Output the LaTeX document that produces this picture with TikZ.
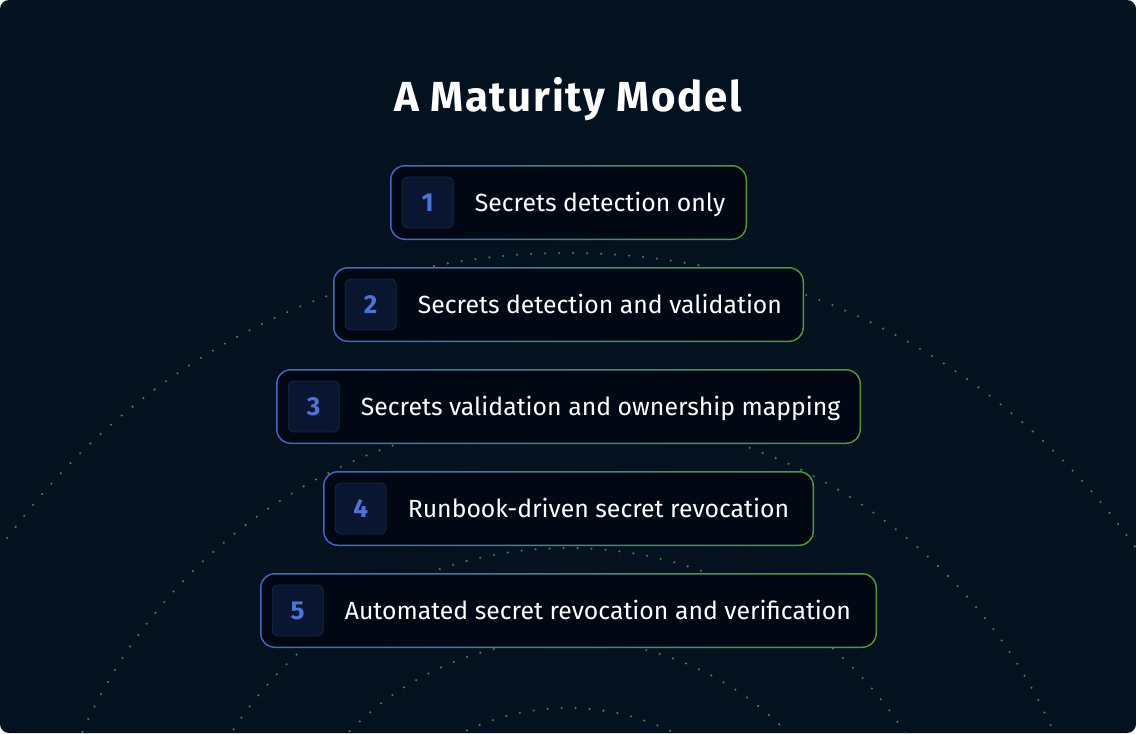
\documentclass[tikz,border=0pt]{standalone}
\usepackage{fontspec}
\setmainfont{Fira Sans}
\newfontfamily\headfont[LetterSpace=4]{Fira Sans}
\usetikzlibrary{positioning}

\definecolor{bgnavy}{HTML}{04111F}
\definecolor{cardfill}{HTML}{020714}
\definecolor{badgefill}{HTML}{0A1630}
\definecolor{badgeline}{HTML}{1A2642}
\definecolor{numblue}{HTML}{4A74DA}
\definecolor{rimblue}{HTML}{4169C6}
\definecolor{rimgreen}{HTML}{4E9C3A}
\definecolor{dotgreen}{HTML}{4A854F}

\tikzset{
  stepcard/.style={rounded corners=15pt, minimum height=75pt, inner sep=0pt,
    left color=rimblue, right color=rimgreen,
    path picture={\fill[cardfill, rounded corners=13.5pt]
      ([shift={(1.5pt,-1.5pt)}]path picture bounding box.north west) rectangle
      ([shift={(-1.5pt,1.5pt)}]path picture bounding box.south east);}},
  badge/.style={minimum size=51pt, inner sep=0pt, rounded corners=6pt,
    fill=badgefill, draw=badgeline, line width=0.8pt, text=numblue,
    font=\bfseries\fontsize{26}{28}\selectfont, text height=18pt, text depth=0pt},
  steptext/.style={inner sep=0pt, text=white, font=\fontsize{24.8}{28}\selectfont,
    text height=17pt, text depth=0pt},
  ripple/.style={dotgreen, line width=2.3pt, line cap=round, dash pattern=on 0pt off 14pt}
}

\begin{document}
\begin{tikzpicture}[x=1pt,y=-1pt]
\useasboundingbox (0,0) rectangle (1136,734);
\fill[white] (0,0) rectangle (1136,734);
\fill[bgnavy, rounded corners=9pt] (0,0) rectangle (1136,733);

% dotted ripples behind the cards
\begin{scope}
\clip[rounded corners=9pt] (0,0) rectangle (1136,733);
\foreach \r in {239,307,399,531,694}
  \draw[ripple] (568,947) circle (\r);
\end{scope}

% title
\node[anchor=base, text=white, font=\headfont\bfseries\fontsize{42}{46}\selectfont] (title) at (568,111) {A Maturity Model};

% the five levels
\foreach \n/\cw/\txt in {1/357/Secrets detection only,
    2/471/Secrets detection and validation,
    3/585/Secrets validation and ownership mapping,
    4/491/Runbook-driven secret revocation,
    5/617/Automated secret revocation and verification}{
  \node[stepcard, minimum width=\cw pt] (card\n) at (568.5,{100.5+102*\n}) {};
  \node[badge, right=12pt of card\n.west] (badge\n) {\n};
  \node[steptext, right=21pt of badge\n] (label\n) {\txt};
}

\end{tikzpicture}
\end{document}
